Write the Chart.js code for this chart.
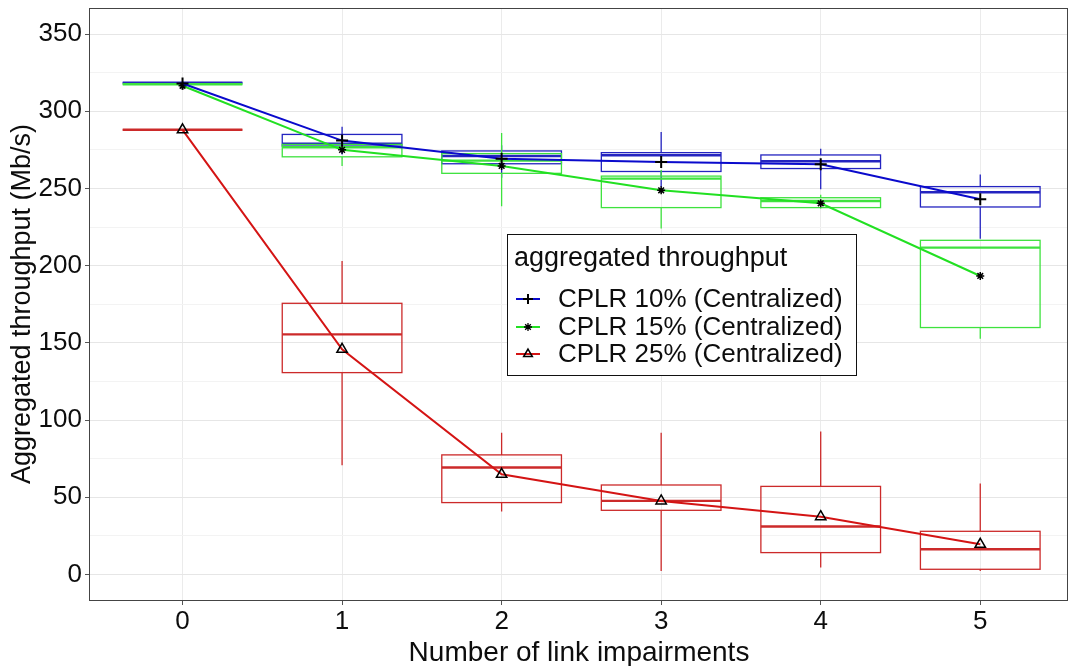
<!DOCTYPE html>
<html>
<head>
<meta charset="utf-8">
<script src="https://cdn.jsdelivr.net/npm/chart.js@4/dist/chart.umd.min.js"></script>
<style>
  html, body { margin: 0; padding: 0; background: #ffffff; }
  #wrap { width: 1069px; height: 666px; }
</style>
</head>
<body>
<div id="wrap"><canvas id="c" width="1069" height="666"></canvas></div>
<script>
// ---------------- data ----------------
const categories = [0, 1, 2, 3, 4, 5];
const xTickLabels = ['0', '1', '2', '3', '4', '5'];
const yTickValues = [0, 50, 100, 150, 200, 250, 300, 350];
const yMinorValues = [25, 75, 125, 175, 225, 275, 325];
const seriesNames = ['CPLR 10% (Centralized)', 'CPLR 15% (Centralized)', 'CPLR 25% (Centralized)'];
const legendTitle = 'aggregated throughput';
const xTitle = 'Number of link impairments';
const yTitle = 'Aggregated throughput (Mb/s)';

// means (line + markers)
const mean10 = [318, 281, 269.3, 267.2, 265.7, 243];
const mean15 = [316.5, 275, 264.6, 248.8, 240.4, 193.3];
const mean25 = [288, 145.8, 64.8, 47.6, 37.4, 19.5];

// boxplot stats, CPLR 10%
const lo10  = [318.5, 272,   257,   251,   249.5, 217.5];
const q1_10 = [318.5, 277.5, 266,   261,   262.9, 238];
const med10 = [318.5, 279,   271,   271.5, 267.6, 247.5];
const q3_10 = [318.5, 285,   274.3, 273.2, 271.7, 251.2];
const hi10  = [318.5, 290,   278,   286.6, 275.8, 259];

// boxplot stats, CPLR 15%
const lo15  = [317.5, 264.5, 238.4, 224,   237,   152.7];
const q1_15 = [317.5, 270.5, 259.8, 237.6, 237.6, 159.9];
const med15 = [317.5, 276.7, 268,   256.4, 241.9, 211.7];
const q3_15 = [317.5, 278.5, 272.6, 258,   244,   216.4];
const hi15  = [317.5, 280,   286,   262,   246,   216.4];

// boxplot stats, CPLR 25%
const lo25  = [288, 70.7,  40.7, 2.2,  4.4,  2.2];
const q1_25 = [288, 130.7, 46.5, 41.5, 14.1, 3.3];
const med25 = [288, 155.5, 69.2, 47.6, 31,   16.3];
const q3_25 = [288, 175.6, 77.4, 57.9, 57,   27.9];
const hi25  = [288, 203,   91.8, 91.8, 92.5, 58.8];

// ---------------- styles ----------------
const FONT = '"Liberation Sans", Arial, sans-serif';
const TEXT = '#0d0d0d';
const boxColors  = ['#2424c0', '#3ee23e', '#cc2a2a'];
const lineColors = ['#0a0acc', '#22e022', '#d41414'];
const pointStyles = ['cross', 'star', 'triangle'];
const pointRadii = [6, 4, 6];
const BOX_HALF = 0.375;
const PANEL_RIGHT = 1068;

const boxSets = [
  { lo: lo10, q1: q1_10, med: med10, q3: q3_10, hi: hi10 },
  { lo: lo15, q1: q1_15, med: med15, q3: q3_15, hi: hi15 },
  { lo: lo25, q1: q1_25, med: med25, q3: q3_25, hi: hi25 }
];
const meanSets = [mean10, mean15, mean25];

// ---------------- plugins ----------------
const areaFixPlugin = {
  id: 'areaFix',
  afterLayout(chart) {
    const a = chart.chartArea;
    a.right = PANEL_RIGHT;
    a.width = a.right - a.left;
    const xs = chart.scales.x;
    xs.right = PANEL_RIGHT;
    xs.width = xs.right - xs.left;
    xs.configure();
  }
};

const boxPlugin = {
  id: 'boxes',
  beforeDatasetsDraw(chart) {
    const { ctx, chartArea: a } = chart;
    const xs = chart.scales.x, ys = chart.scales.y;
    ctx.save();
    ctx.beginPath();
    ctx.rect(a.left, a.top, a.right - a.left, a.bottom - a.top);
    ctx.clip();
    boxSets.forEach((b, s) => {
      ctx.strokeStyle = boxColors[s];
      categories.forEach((c, i) => {
        const xl = xs.getPixelForValue(c - BOX_HALF);
        const xr = xs.getPixelForValue(c + BOX_HALF);
        const xc = xs.getPixelForValue(c);
        const yLo = ys.getPixelForValue(b.lo[i]);
        const yQ1 = ys.getPixelForValue(b.q1[i]);
        const yMed = ys.getPixelForValue(b.med[i]);
        const yQ3 = ys.getPixelForValue(b.q3[i]);
        const yHi = ys.getPixelForValue(b.hi[i]);
        ctx.lineWidth = 1.3;
        ctx.beginPath();
        ctx.moveTo(xc, yHi); ctx.lineTo(xc, yQ3);
        ctx.moveTo(xc, yQ1); ctx.lineTo(xc, yLo);
        ctx.stroke();
        ctx.strokeRect(xl, yQ3, xr - xl, yQ1 - yQ3);
        ctx.lineWidth = 2.4;
        ctx.beginPath();
        ctx.moveTo(xl, yMed); ctx.lineTo(xr, yMed);
        ctx.stroke();
      });
    });
    ctx.restore();
  }
};

function drawMarker(ctx, style, x, y, r) {
  ctx.save();
  ctx.strokeStyle = '#000';
  ctx.beginPath();
  if (style === 'cross') {
    ctx.lineWidth = 2;
    ctx.moveTo(x - r, y); ctx.lineTo(x + r, y);
    ctx.moveTo(x, y - r); ctx.lineTo(x, y + r);
  } else if (style === 'star') {
    ctx.lineWidth = 1.3;
    ctx.moveTo(x - r, y); ctx.lineTo(x + r, y);
    ctx.moveTo(x, y - r); ctx.lineTo(x, y + r);
    const d = r * 0.7071;
    ctx.moveTo(x - d, y - d); ctx.lineTo(x + d, y + d);
    ctx.moveTo(x - d, y + d); ctx.lineTo(x + d, y - d);
  } else {
    ctx.lineWidth = 1.5;
    const h = r * 1.5;
    ctx.moveTo(x, y - h * 0.66);
    ctx.lineTo(x + r * 0.87, y + h * 0.34);
    ctx.lineTo(x - r * 0.87, y + h * 0.34);
    ctx.closePath();
  }
  ctx.stroke();
  ctx.restore();
}

const framePlugin = {
  id: 'frame',
  afterDraw(chart) {
    const { ctx, chartArea: a } = chart;
    ctx.save();
    ctx.strokeStyle = '#444';
    ctx.lineWidth = 1;
    ctx.strokeRect(Math.round(a.left) - 0.5, Math.round(a.top) + 0.5,
                   Math.round(a.right - a.left), Math.round(a.bottom - a.top));
    // legend
    const L = 507, T = 234, W = 349, H = 141;
    ctx.fillStyle = '#fff';
    ctx.fillRect(L, T, W, H);
    ctx.strokeStyle = '#111';
    ctx.strokeRect(L + 0.5, T + 0.5, W, H);
    ctx.fillStyle = TEXT;
    ctx.textBaseline = 'middle';
    ctx.textAlign = 'left';
    ctx.font = '27px ' + FONT;
    ctx.fillText(legendTitle, 514, 259);
    ctx.font = '26px ' + FONT;
    const rows = [299, 327, 354];
    seriesNames.forEach((n, s) => {
      const y = rows[s];
      ctx.strokeStyle = lineColors[s];
      ctx.lineWidth = 2;
      ctx.beginPath();
      ctx.moveTo(516, y); ctx.lineTo(540, y);
      ctx.stroke();
      drawMarker(ctx, pointStyles[s], 528, y, s === 1 ? 4 : 5);
      ctx.fillStyle = TEXT;
      ctx.fillText(n, 558, y + 1);
    });
    ctx.restore();
  }
};

// ---------------- chart ----------------
const datasets = meanSets.map((m, s) => ({
  label: seriesNames[s],
  data: categories.map((c, i) => ({ x: c, y: m[i] })),
  borderColor: lineColors[s],
  backgroundColor: lineColors[s],
  borderWidth: 2,
  pointStyle: pointStyles[s],
  pointRadius: pointRadii[s],
  pointBorderColor: '#000',
  pointBackgroundColor: 'rgba(0,0,0,0)',
  pointBorderWidth: s === 0 ? 2 : 1.5,
  tension: 0,
  fill: false
}));

new Chart(document.getElementById('c'), {
  type: 'line',
  data: { datasets },
  plugins: [areaFixPlugin, boxPlugin, framePlugin],
  options: {
    responsive: false,
    animation: false,
    devicePixelRatio: 1,
    layout: { padding: { top: 8, right: 1, left: 0, bottom: 0 } },
    plugins: { legend: { display: false }, tooltip: { enabled: false } },
    scales: {
      x: {
        type: 'linear',
        min: -0.58,
        max: 5.55,
        afterBuildTicks(scale) { scale.ticks = categories.map(v => ({ value: v })); },
        afterFit(scale) { scale.height = 66; scale.paddingLeft = 0; scale.paddingRight = 0; },
        ticks: {
          callback: (v) => { const i = categories.indexOf(v); return i >= 0 ? xTickLabels[i] : ''; },
          font: { family: FONT, size: 26 },
          color: TEXT,
          padding: 1,
          maxRotation: 0,
          autoSkip: false
        },
        grid: { color: '#ebebeb', lineWidth: 1, tickLength: 5, tickColor: '#555', drawTicks: true },
        border: { display: false },
        title: { display: true, text: xTitle, font: { family: FONT, size: 28 }, color: TEXT, padding: { top: 0, bottom: -4 } }
      },
      y: {
        type: 'linear',
        min: -16.6,
        max: 366.9,
        afterBuildTicks(scale) {
          scale.ticks = yTickValues.concat(yMinorValues).sort((a, b) => a - b).map(v => ({ value: v }));
        },
        afterFit(scale) { scale.width = 90; scale.paddingTop = 0; scale.paddingBottom = 0; },
        ticks: {
          callback: (v) => (yTickValues.includes(v) ? String(v) : ''),
          font: { family: FONT, size: 26 },
          color: TEXT,
          padding: 3,
          autoSkip: false
        },
        grid: {
          color: (ctx) => (yTickValues.includes(ctx.tick.value) ? '#e6e6e6' : '#f3f3f3'),
          lineWidth: 1,
          tickLength: 5,
          tickColor: (ctx) => (yTickValues.includes(ctx.tick.value) ? '#555' : 'rgba(0,0,0,0)')
        },
        border: { display: false },
        title: { display: true, text: yTitle, font: { family: FONT, size: 27 }, color: TEXT, padding: { top: 6, bottom: 0 } }
      }
    }
  }
});
</script>
</body>
</html>
